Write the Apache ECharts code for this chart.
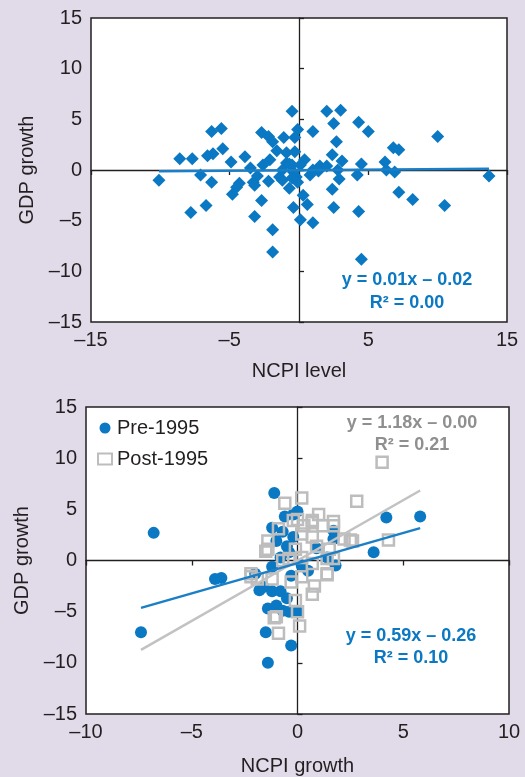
<!DOCTYPE html>
<html>
<head>
<meta charset="utf-8">
<script src="https://cdn.jsdelivr.net/npm/echarts@6/dist/echarts.min.js"></script>
<style>
  html, body { margin: 0; padding: 0; background: #e0dae9; }
  #chart { width: 525px; height: 777px; }
</style>
</head>
<body>
<div id="chart"></div>
<script>
// Top panel: NCPI level vs GDP growth
const levelX = [-0.5, 2.0, 3.0, 2.5, 4.3, 5.0, -0.1, 1.0, -6.3, -5.6, -2.7, -2.2, -1.9, -1.1, -0.3, 2.7, 10.0,
  -5.5, -6.2, -6.6, -1.6, -0.9, -0.3, 2.4, 6.8, 7.2, -8.6, -7.7, -3.9, -4.9, 3.1, 6.2, 0.4, -0.9, -0.5,
  -2.6, -3.5, 4.5, 1.5, 2.0, 1.0, 2.8, 6.3, 6.9, -7.1, -10.1, 13.7, -6.3, 4.2, 2.9, 0.8, -1.4, -1.2,
  -3.0, -3.3, -2.2, -0.2, -4.3, -4.5, -3.2, -0.7, 2.4, 7.2, -4.8, 0.3, 8.2, -2.7, -7.8, -6.7, -3.2,
  -1.9, -1.9, -0.4, 0.6, 0.1, 1.0, 2.5, 4.3, 4.5, 10.5, -0.7, -0.4, -0.1, -0.5, -1.2, 0.1, 1.4, -2.1]
const levelY = [5.8, 5.8, 5.9, 4.6, 4.7, 3.8, 4.0, 3.8, 3.8, 4.1, 3.7, 3.3, 2.8, 3.2, 3.2, 2.8, 3.3,
  2.1, 1.6, 1.4, 1.9, 1.7, 1.8, 1.5, 2.2, 2.0, 1.1, 1.1, 1.3, 0.8, 0.9, 0.8, 1.0, 0.7, 0.5,
  0.5, 0.2, 0.6, 0.4, 0.4, 0.0, 0.0, 0.0, -0.2, -0.5, -1.0, -0.6, -1.2, -0.5, -0.9, -0.5, -0.7, -1.0,
  -0.6, -1.2, -1.1, -0.7, -1.3, -1.7, -1.5, -1.8, -1.9, -2.2, -2.4, -2.5, -2.9, -3.0, -4.2, -3.5, -4.6,
  -5.9, -8.1, -3.7, -3.4, -4.9, -5.2, -3.7, -4.1, -8.8, -3.5, 0.6, -0.2, -1.2, -0.8, 0.0, 0.5, -0.1, 1.0]
const levelFit = { slope: 0.01, intercept: -0.02 }

// Bottom panel: NCPI growth vs GDP growth, split at 1995
const preX = [-6.8, -1.1, 4.2, 5.8, 3.6, -3.9, -3.6, 0.0, -0.2, -0.6, -1.2, -0.7, -1.0, -0.5, -0.4, -0.8,
  1.7, 1.7, 1.8, -2.0, -7.4, -1.8, -1.2, -0.8, -0.5, -1.4, -1.0, -0.7, -0.4, 0.0, -1.5, -0.3, -1.4,
  -1.6, -1.2, 1.4, 0.2, 0.5, -0.3, 0.9, -0.2]
const preY = [2.7, 6.6, 4.2, 4.3, 0.8, -1.8, -1.7, 4.8, 4.5, 4.3, 3.2, 2.8, 1.9, 1.4, 0.8, 0.3,
  2.9, 2.1, -0.5, -1.3, -7.0, -2.9, -3.0, -3.0, -3.7, -4.7, -4.4, -4.9, -5.0, -5.0, -7.0, -8.3, -10.0,
  -2.6, -0.6, 0.3, -0.5, -1.0, -1.5, 1.2, 2.3]
const postX = [4.0, 2.8, 0.2, -0.6, 1.0, -0.2, 0.7, 1.7, -0.9, 0.3, -1.4, -1.5, 2.5, 4.3, 1.4, -2.2,
  1.4, 0.8, -1.9, 0.7, -0.1, -1.1, -0.9, 0.1, 0.0, 0.0, 0.7, 1.2, 1.7, -1.4, 0.2, 0.7, 2.2, 2.6,
  -0.1, 0.9, 1.5, -0.7, -0.4, 0.2, 0.7, 1.7, -2.2, -1.2, -0.3, 0.2, 1.4, -1.0]
const postY = [9.6, 5.8, 6.1, 5.6, 4.5, 3.9, 3.9, 3.4, 3.1, 3.4, 1.9, 0.9, 2.0, 2.0, 0.2, -1.6,
  -1.4, -2.5, -1.8, -3.3, -3.9, -5.6, -7.1, -6.4, -5.0, 4.0, 3.7, 3.4, 3.8, 1.1, 2.6, 2.3, 2.1, 1.9,
  1.1, 1.4, 1.1, 0.0, 0.2, 0.3, -0.3, 0.2, -1.3, -1.8, -2.1, -1.6, -1.3, -5.5]
const preFit = { slope: 0.59, intercept: -0.26 }
const postFit = { slope: 1.18, intercept: -0.0 }

const BLUE = '#0a78c2'
const GREY = '#bdbdbd'
const INK = '#231f20'
const FONT = '"Liberation Sans", Arial, Helvetica, sans-serif'

const pairs = (xs, ys) => xs.map((x, i) => [x, ys[i]])
const fitLine = (fit, xs) => {
  const lo = Math.min(...xs)
  const hi = Math.max(...xs)
  return [[lo, fit.slope * lo + fit.intercept], [hi, fit.slope * hi + fit.intercept]]
}
const dash = (v) => String(v).replace('-', '\u2013')

// labelled frame axis + zero-line axis for each grid
const frameX = (grid, min, max, interval, name, gap) => ({
  gridIndex: grid, type: 'value', position: 'bottom', min, max, interval,
  axisLine: { show: false, onZero: false }, axisTick: { show: false }, splitLine: { show: false },
  axisLabel: { color: INK, fontSize: 20, fontFamily: FONT, margin: 8, formatter: dash },
  name, nameLocation: 'middle', nameGap: gap,
  nameTextStyle: { color: INK, fontSize: 20, fontFamily: FONT },
})
const zeroX = (grid, min, max, interval) => ({
  gridIndex: grid, type: 'value', position: 'bottom', min, max, interval,
  axisLine: { show: true, onZero: true, lineStyle: { color: INK, width: 1.3 } },
  axisTick: { show: true, inside: false, length: 5, lineStyle: { color: INK, width: 1.3 } },
  axisLabel: { show: false }, splitLine: { show: false },
})
const frameY = (grid, name) => ({
  gridIndex: grid, type: 'value', position: 'left', min: -15, max: 15, interval: 5,
  axisLine: { show: false, onZero: false }, axisTick: { show: false }, splitLine: { show: false },
  axisLabel: { color: INK, fontSize: 20, fontFamily: FONT, margin: 9, formatter: dash },
  name, nameLocation: 'middle', nameGap: 50,
  nameTextStyle: { color: INK, fontSize: 20, fontFamily: FONT },
})
const zeroY = (grid) => ({
  gridIndex: grid, type: 'value', position: 'left', min: -15, max: 15, interval: 5,
  axisLine: { show: true, onZero: true, lineStyle: { color: INK, width: 1.3 } },
  axisTick: { show: true, inside: true, length: 5, lineStyle: { color: INK, width: 1.3 } },
  axisLabel: { show: false }, splitLine: { show: false },
})

const eqText = (x, y, text, color) => ({
  type: 'text', x, y, z: 10,
  style: { text, fill: color, font: 'bold 18px ' + FONT, align: 'center', verticalAlign: 'middle' },
})

const option = {
  animation: false,
  backgroundColor: '#e0dae9',
  grid: [
    { left: 91, top: 18, width: 416, height: 304, show: true, backgroundColor: '#fff', borderColor: INK, borderWidth: 1.5 },
    { left: 86, top: 407, width: 423, height: 309, show: true, backgroundColor: '#fff', borderColor: INK, borderWidth: 1.5 },
  ],
  xAxis: [
    frameX(0, -15, 15, 10, 'NCPI level', 39),
    zeroX(0, -15, 15, 10),
    frameX(1, -10, 10, 5, 'NCPI growth', 42),
    zeroX(1, -10, 10, 5),
  ],
  yAxis: [frameY(0, 'GDP growth'), zeroY(0), frameY(1, 'GDP growth'), zeroY(1)],
  legend: {
    orient: 'vertical', left: 97, top: 418, padding: 0, itemWidth: 14, itemHeight: 11, itemGap: 11,
    textStyle: { color: INK, fontSize: 20, fontFamily: FONT },
    data: ['Pre-1995', 'Post-1995'],
  },
  series: [
    {
      type: 'scatter', xAxisIndex: 0, yAxisIndex: 0, symbol: 'diamond', symbolSize: 13,
      itemStyle: { color: BLUE, opacity: 1 }, data: pairs(levelX, levelY),
    },
    {
      type: 'line', xAxisIndex: 0, yAxisIndex: 0, showSymbol: false, symbol: 'none',
      lineStyle: { color: '#1a7fc6', width: 2.5 }, data: fitLine(levelFit, levelX),
    },
    {
      name: 'Pre-1995', type: 'scatter', xAxisIndex: 2, yAxisIndex: 2, symbol: 'circle', symbolSize: 12,
      itemStyle: { color: BLUE, opacity: 1 }, data: pairs(preX, preY),
    },
    {
      name: 'Post-1995', type: 'scatter', xAxisIndex: 2, yAxisIndex: 2, symbol: 'rect', symbolSize: 11,
      itemStyle: { color: 'rgba(0,0,0,0)', borderColor: GREY, borderWidth: 2.5, opacity: 1 }, data: pairs(postX, postY),
    },
    {
      type: 'line', xAxisIndex: 2, yAxisIndex: 2, showSymbol: false, symbol: 'none',
      lineStyle: { color: '#c2c2c2', width: 2.5 }, data: fitLine(postFit, preX),
    },
    {
      type: 'line', xAxisIndex: 2, yAxisIndex: 2, showSymbol: false, symbol: 'none',
      lineStyle: { color: '#1a7fc6', width: 2.5 }, data: fitLine(preFit, preX),
    },
  ],
  graphic: [
    eqText(407, 280, 'y = 0.01x \u2013 0.02', BLUE),
    eqText(407, 303, 'R\u00b2 = 0.00', BLUE),
    eqText(412, 423, 'y = 1.18x \u2013 0.00', '#8f8f8f'),
    eqText(412, 445, 'R\u00b2 = 0.21', '#8f8f8f'),
    eqText(411, 636, 'y = 0.59x \u2013 0.26', BLUE),
    eqText(411, 658, 'R\u00b2 = 0.10', BLUE),
  ],
}

const chart = echarts.init(document.getElementById('chart'))
chart.setOption(option)
</script>
</body>
</html>
